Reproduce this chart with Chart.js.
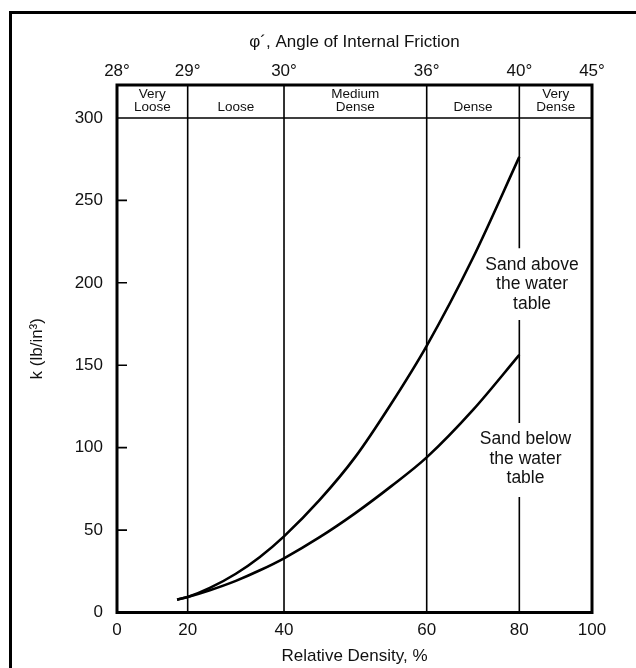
<!DOCTYPE html>
<html>
<head>
<meta charset="utf-8">
<script src="https://cdn.jsdelivr.net/npm/chart.js@4.4.1/dist/chart.umd.min.js"></script>
<style>
  html, body { margin: 0; padding: 0; background: #fff; overflow: hidden; }
</style>
</head>
<body>
<canvas id="chart" width="636" height="668"></canvas>
<script>
// k vs relative density, sand above / below the water table
const densityTicks = [0, 20, 40, 60, 80, 100];
const frictionLabels = ['28°', '29°', '30°', '36°', '40°', '45°'];
const kTicks = [0, 50, 100, 150, 200, 250, 300];
const zoneNames = [['Very', 'Loose'], ['Loose'], ['Medium', 'Dense'], ['Dense'], ['Very', 'Dense']];

const aboveDensity = [17, 20, 24.6, 30, 35, 40, 45, 50, 55, 60, 70, 80];
const aboveK = [7.8, 9.4, 14.9, 23.5, 33.7, 46.2, 68.3, 94.4, 126.5, 161.8, 215.2, 276.4];
const belowDensity = [17, 20, 24.6, 30, 35, 40, 45, 50, 55, 60, 70, 80];
const belowK = [7.8, 9.4, 13.5, 19.2, 25.6, 32.9, 45.7, 60.3, 76.5, 94.1, 122.9, 156.3];

const FONT = "'Liberation Sans', Arial, Helvetica, sans-serif";
const INK = '#111';

// the density axis of the original is not evenly spaced:
// each tick sits at its own fraction of the width, linear in between
class SteppedScale extends Chart.LinearScale {
  static id = 'stepped';
  static defaults = {};
  getPixelForValue(v) {
    const t = densityTicks, f = this.options.stops;
    let i = 1;
    while (i < t.length - 1 && v > t[i]) i++;
    const frac = f[i - 1] + (v - t[i - 1]) / (t[i] - t[i - 1]) * (f[i] - f[i - 1]);
    return this.getPixelForDecimal(frac);
  }
}
Chart.register(SteppedScale);

const stops = [0, 0.1488, 0.3516, 0.652, 0.847, 1];
const labelGaps = [[177.5, 221], [70, 115]];   // breaks in the 80% line for the labels

function pts(xs, ys) { return xs.map((x, i) => ({ x: x, y: ys[i] })); }

const decor = {
  id: 'decor',
  beforeDatasetsDraw(chart) {
    const { ctx, chartArea: a, scales: { x, y } } = chart;
    ctx.save();
    ctx.strokeStyle = '#000';
    ctx.lineWidth = 1.6;
    ctx.beginPath();
    densityTicks.slice(1, -1).forEach(d => {
      const px = x.getPixelForValue(d);
      let top = a.top;
      (d === 80 ? labelGaps : []).forEach(([lo, hi]) => {
        ctx.moveTo(px, top);
        ctx.lineTo(px, y.getPixelForValue(hi));
        top = y.getPixelForValue(lo);
      });
      ctx.moveTo(px, top);
      ctx.lineTo(px, a.bottom);
    });
    const y300 = y.getPixelForValue(300);
    ctx.moveTo(a.left, y300);
    ctx.lineTo(a.right, y300);
    kTicks.forEach(v => {
      const py = y.getPixelForValue(v);
      ctx.moveTo(a.left, py);
      ctx.lineTo(a.left + 10, py);
    });
    ctx.stroke();
    ctx.restore();
  },
  afterDraw(chart) {
    const { ctx, chartArea: a, scales: { x, y } } = chart;
    ctx.save();
    // outer picture frame
    ctx.fillStyle = '#000';
    ctx.fillRect(9, 11, 3, chart.height);
    ctx.fillRect(9, 11, chart.width, 3);
    // plot frame
    ctx.lineWidth = 3;
    ctx.strokeStyle = '#000';
    ctx.strokeRect(a.left, a.top, a.right - a.left, a.bottom - a.top);

    // density classes in the header band
    ctx.fillStyle = INK;
    ctx.textAlign = 'center';
    ctx.textBaseline = 'alphabetic';
    ctx.font = '13.5px ' + FONT;
    const y300 = y.getPixelForValue(300);
    zoneNames.forEach((lines, i) => {
      const cx = (x.getPixelForValue(densityTicks[i]) + x.getPixelForValue(densityTicks[i + 1])) / 2;
      lines.slice().reverse().forEach((s, j) => ctx.fillText(s, cx, y300 - 7 - j * 13));
    });

    // curve labels
    ctx.font = '17.5px ' + FONT;
    ctx.textBaseline = 'middle';
    const lab = (lines, d, ks) => lines.forEach((s, j) => ctx.fillText(s, x.getPixelForValue(d), y.getPixelForValue(ks[j])));
    lab(['Sand above', 'the water', 'table'], 83.5, [210.5, 199, 187]);
    lab(['Sand below', 'the water', 'table'], 81.7, [105, 93, 81.6]);
    ctx.restore();
  }
};

new Chart(document.getElementById('chart'), {
  type: 'line',
  data: {
    datasets: [
      { label: 'Sand above the water table', data: pts(aboveDensity, aboveK) },
      { label: 'Sand below the water table', data: pts(belowDensity, belowK) }
    ]
  },
  options: {
    responsive: false,
    animation: false,
    events: [],
    layout: { padding: { left: 0, right: 44, top: 0, bottom: 0 } },
    elements: {
      line: { borderColor: '#000', borderWidth: 2.6, cubicInterpolationMode: 'monotone', fill: false },
      point: { radius: 0 }
    },
    plugins: { legend: { display: false }, tooltip: { enabled: false } },
    scales: {
      x: {
        type: 'stepped', position: 'bottom', min: 0, max: 100, stops: stops,
        afterBuildTicks: s => { s.ticks = densityTicks.map(v => ({ value: v })); },
        afterFit: s => { s.height = 55.5; },
        grid: { display: false, drawTicks: false }, border: { display: false },
        ticks: { color: INK, font: { family: FONT, size: 17 }, padding: 8, maxRotation: 0, autoSkip: false, callback: v => v },
        title: { display: true, text: 'Relative Density, %', color: INK, font: { family: FONT, size: 17 }, padding: { top: 0, bottom: 1 } }
      },
      top: {
        type: 'stepped', position: 'top', min: 0, max: 100, stops: stops,
        afterBuildTicks: s => { s.ticks = densityTicks.map(v => ({ value: v })); },
        afterFit: s => { s.height = 85; },
        grid: { display: false, drawTicks: false }, border: { display: false },
        ticks: { color: INK, font: { family: FONT, size: 17 }, padding: 3, maxRotation: 0, autoSkip: false, callback: (v, i) => frictionLabels[i] },
        title: { display: true, text: 'φ´, Angle of Internal Friction', color: INK, font: { family: FONT, size: 17 }, padding: { top: 32, bottom: 0 } }
      },
      y: {
        type: 'linear', position: 'left', min: 0, max: 320,
        afterBuildTicks: s => { s.ticks = kTicks.map(v => ({ value: v })); },
        afterFit: s => { s.width = 117; },
        grid: { display: false, drawTicks: false }, border: { display: false },
        ticks: { color: INK, font: { family: FONT, size: 17 }, padding: 14 },
        title: { display: true, text: 'k (lb/in³)', color: INK, font: { family: FONT, size: 17 }, padding: { top: 27, bottom: 0 } }
      }
    }
  },
  plugins: [decor]
});
</script>
</body>
</html>
